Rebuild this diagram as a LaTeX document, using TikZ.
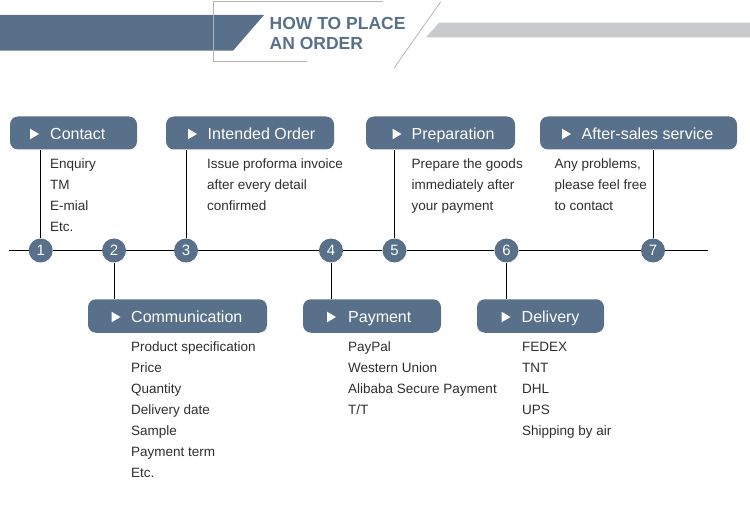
\documentclass[tikz,border=0pt]{standalone}
\usepackage{fontspec}
\setmainfont{Liberation Sans}
\definecolor{sblue}{HTML}{587089}
\definecolor{lgrey}{HTML}{C9CACC}
\definecolor{ogrey}{HTML}{B4B4B4}
\definecolor{txt}{HTML}{2E2E2E}
\tikzset{
  stepbox/.style={draw=none, fill=sblue, rounded corners=8pt, inner sep=0pt},
  numdot/.style={circle, fill=sblue, minimum size=24pt, inner sep=0pt, text=white,
    font=\fontsize{15}{15}\selectfont},
  boxlabel/.style={anchor=base west, inner sep=0pt, text=white,
    font=\fontsize{16}{16}\selectfont},
  body/.style={anchor=base west, inner sep=0pt, text=txt,
    font=\fontsize{13.5}{16}\selectfont},
  conn/.style={draw=black, line width=1pt},
  headtxt/.style={anchor=base west, inner sep=0pt, text=sblue,
    font=\bfseries\fontsize{17.5}{18}\selectfont},
}
\newcommand{\playtri}[2]{\fill[white] (#1,#2-5.3) -- (#1+9,#2) -- (#1,#2+5.3) -- cycle;}
\begin{document}
\begin{tikzpicture}[x=1pt,y=-1pt]
\useasboundingbox (0,0) rectangle (750,513);
% header
\fill[sblue] (0,15) -- (264,15) -- (233,50.7) -- (0,50.7) -- cycle;
\fill[lgrey] (439,22.7) -- (750,22.7) -- (750,37.3) -- (426,37.3) -- cycle;
\draw[ogrey, line width=0.8pt] (383,1.7) -- (213.3,1.7) -- (213.3,61) -- (307,61);
\draw[ogrey, line width=0.8pt] (440.7,1.7) -- (394.3,67.7);
\node[headtxt] (h1) at (269.5,29.3) {HOW TO PLACE};
\node[headtxt] (h2) at (269.5,50) {AN ORDER};

% circles
\node[numdot] (c1) at (40.7,250.5) {1};
\node[numdot] (c2) at (114,250.5) {2};
\node[numdot] (c3) at (186,250.5) {3};
\node[numdot] (c4) at (331,250.5) {4};
\node[numdot] (c5) at (394.5,250.5) {5};
\node[numdot] (c6) at (506.5,250.5) {6};
\node[numdot] (c7) at (653,250.5) {7};
\coordinate (tl0) at (9,250.5);
\coordinate (tl1) at (708,250.5);
\draw[conn] (tl0) -- (c1) -- (c2) -- (c3) -- (c4) -- (c5) -- (c6) -- (c7) -- (tl1);

% top boxes
\node[stepbox, minimum width=127pt, minimum height=33pt] (b1) at (73.5,133) {};
\node[stepbox, minimum width=168pt, minimum height=33pt] (b3) at (250,133) {};
\node[stepbox, minimum width=149pt, minimum height=33pt] (b5) at (440.5,133) {};
\node[stepbox, minimum width=197pt, minimum height=33pt] (b7) at (638.5,133) {};
% bottom boxes
\node[stepbox, minimum width=179pt, minimum height=33.5pt] (b2) at (177.5,316) {};
\node[stepbox, minimum width=138pt, minimum height=33.5pt] (b4) at (372,316) {};
\node[stepbox, minimum width=127pt, minimum height=33.5pt] (b6) at (540.5,316) {};

% connectors
\draw[conn] (b1.south -| c1) -- (c1.north);
\draw[conn] (b3.south -| c3) -- (c3.north);
\draw[conn] (b5.south -| c5) -- (c5.north);
\draw[conn] (b7.south -| c7) -- (c7.north);
\draw[conn] (c2.south) -- (b2.north -| c2);
\draw[conn] (c4.south) -- (b4.north -| c4);
\draw[conn] (c6.south) -- (b6.north -| c6);

% box labels
\playtri{30}{134}
\node[boxlabel] (l1) at (50,140) {Contact};
\playtri{188}{134}
\node[boxlabel] (l3) at (207.5,140) {Intended Order};
\playtri{392.5}{134}
\node[boxlabel] (l5) at (411.5,140) {Preparation};
\playtri{562}{134}
\node[boxlabel] (l7) at (581.5,140) {After-sales service};
\playtri{111.5}{317}
\node[boxlabel] (l2) at (131,323) {Communication};
\playtri{327}{317}
\node[boxlabel] (l4) at (348,323) {Payment};
\playtri{501.5}{317}
\node[boxlabel] (l6) at (521.5,323) {Delivery};

% body texts
\foreach \t [count=\i] in {Enquiry, TM, E-mial, Etc.}
  \node[body] (t1-\i) at (50,{168.5+21*(\i-1)}) {\t};
\foreach \t [count=\i] in {Issue proforma invoice, after every detail, confirmed}
  \node[body] (t3-\i) at (207,{168.5+21*(\i-1)}) {\t};
\foreach \t [count=\i] in {Prepare the goods, immediately after, your payment}
  \node[body] (t5-\i) at (411.5,{168.5+21*(\i-1)}) {\t};
\foreach \t [count=\i] in {{Any problems,}, please feel free, to contact}
  \node[body] (t7-\i) at (554.5,{168.5+21*(\i-1)}) {\t};
\foreach \t [count=\i] in {Product specification, Price, Quantity, Delivery date, Sample, Payment term, Etc.}
  \node[body] (t2-\i) at (131,{351.5+21*(\i-1)}) {\t};
\foreach \t [count=\i] in {PayPal, Western Union, Alibaba Secure Payment, T/T}
  \node[body] (t4-\i) at (348,{351.5+21*(\i-1)}) {\t};
\foreach \t [count=\i] in {FEDEX, TNT, DHL, UPS, Shipping by air}
  \node[body] (t6-\i) at (522,{351.5+21*(\i-1)}) {\t};
\end{tikzpicture}
\end{document}
